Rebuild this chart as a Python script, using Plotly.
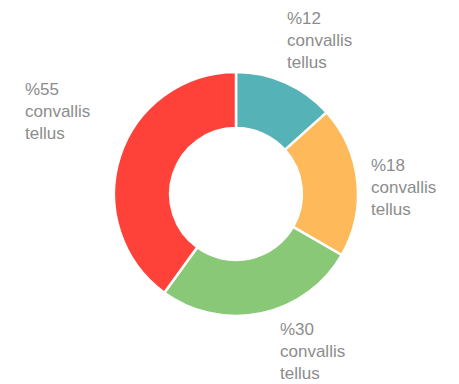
import plotly.graph_objects as go

# Slice data, clockwise from 12 o'clock
categories = ["%12<br>convallis<br>tellus", "%18<br>convallis<br>tellus",
              "%30<br>convallis<br>tellus", "%55<br>convallis<br>tellus"]
values = [12, 18, 24, 36]
colors = ["#55b2b6", "#feba5a", "#89c877", "#fe423a"]

# Label anchor points (pixels from top-left of the 459x384 canvas)
label_pos = [(285, 7), (369, 154), (278, 318), (23, 78)]

W, H = 459, 384
cx, cy, r = 236, 194, 122

fig = go.Figure(go.Pie(
    labels=categories,
    values=values,
    sort=False,
    direction="clockwise",
    rotation=0,
    hole=0.54,
    textinfo="none",
    hoverinfo="label+value",
    marker=dict(colors=colors, line=dict(color="white", width=2.5)),
    domain=dict(x=[(cx - r) / W, (cx + r) / W],
                y=[(H - cy - r) / H, (H - cy + r) / H]),
    showlegend=False,
))

for text, (px, py) in zip(categories, label_pos):
    fig.add_annotation(
        text=text, x=px / W, y=1 - py / H, xref="paper", yref="paper",
        xanchor="left", yanchor="top", align="left", showarrow=False,
        font=dict(family="Liberation Sans, Arial, sans-serif", size=17, color="#8c8c8c"),
    )

fig.update_layout(
    width=W, height=H,
    margin=dict(l=0, r=0, t=0, b=0),
    paper_bgcolor="white", plot_bgcolor="white",
)

fig.write_html("out.html")
